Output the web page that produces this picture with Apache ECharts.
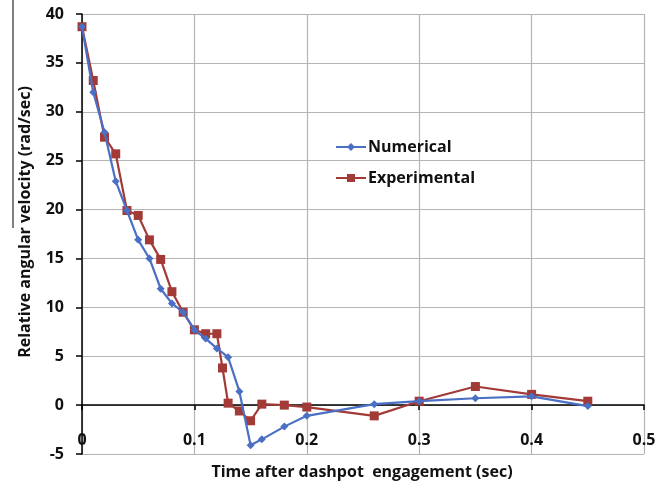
<!DOCTYPE html>
<html><head><meta charset="utf-8">
<script src="https://cdn.jsdelivr.net/npm/echarts@6/dist/echarts.min.js"></script>
<style>html,body{margin:0;padding:0;background:#fff}#c{width:672px;height:488px}</style>
</head><body><div id="c"></div>
<script>
const numX = [0, 0.01, 0.02, 0.03, 0.04, 0.05, 0.06, 0.07, 0.08, 0.09, 0.10, 0.11, 0.12, 0.13, 0.14, 0.15, 0.16, 0.18, 0.20, 0.26, 0.30, 0.35, 0.40, 0.45];
const numY = [38.7, 32.0, 27.9, 22.9, 19.9, 16.9, 15.0, 11.9, 10.4, 9.5, 7.7, 6.8, 5.8, 4.9, 1.4, -4.1, -3.5, -2.2, -1.1, 0.1, 0.4, 0.7, 0.9, -0.1];
const expX = [0, 0.01, 0.02, 0.03, 0.04, 0.05, 0.06, 0.07, 0.08, 0.09, 0.10, 0.11, 0.12, 0.125, 0.13, 0.14, 0.15, 0.16, 0.18, 0.20, 0.26, 0.30, 0.35, 0.40, 0.45];
const expY = [38.7, 33.2, 27.4, 25.7, 19.9, 19.4, 16.9, 14.9, 11.6, 9.5, 7.7, 7.3, 7.3, 3.8, 0.2, -0.6, -1.6, 0.1, 0.0, -0.2, -1.1, 0.4, 1.9, 1.1, 0.4];
const xTicks = {min: 0, max: 0.5, interval: 0.1};
const yTicks = {min: -5, max: 40, interval: 5};
const xTitle = 'Time after dashpot  engagement (sec)';
const yTitle = 'Relative angular velocity (rad/sec)';

const pair = (xs, ys) => xs.map((x, i) => [x, ys[i]]);
const font = '"Open Sans", "Liberation Sans", sans-serif';
const chart = echarts.init(document.getElementById('c'), null, {renderer: 'canvas'});
chart.setOption({
  animation: false,
  backgroundColor: '#fff',
  grid: {left: 82, right: 28, top: 14, bottom: 34},
  graphic: [
    {type: 'line', shape: {x1: 13, y1: 0, x2: 13, y2: 228}, style: {stroke: '#000', lineWidth: 1}},
    {type: 'text', x: 362, y: 472, style: {text: xTitle, font: 'bold 16px ' + font, fill: '#111', align: 'center', verticalAlign: 'middle'}},
    {type: 'text', x: 25, y: 222, rotation: Math.PI / 2, style: {text: yTitle, font: 'bold 16px ' + font, fill: '#111', align: 'center', verticalAlign: 'middle'}}
  ],
  legend: {
    orient: 'vertical', left: 330, top: 134, itemWidth: 30, itemHeight: 10, itemGap: 15,
    textStyle: {fontFamily: font, fontWeight: 'bold', fontSize: 16, color: '#111', padding: [0, 0, 0, -3]},
    data: ['Numerical', 'Experimental']
  },
  xAxis: [
    {type: 'value', position: 'bottom', min: xTicks.min, max: xTicks.max, interval: xTicks.interval,
     axisLine: {show: false, onZero: false}, axisTick: {show: false},
     axisLabel: {inside: true, margin: 6, fontFamily: font, fontWeight: 'bold', fontSize: 16, color: '#111',
       formatter: v => (v === 0 ? '0' : String(+v.toFixed(1)))},
     splitLine: {show: true, lineStyle: {color: '#b4b4b4', width: 1.2}}},
    {type: 'value', position: 'top', min: xTicks.min, max: xTicks.max, interval: xTicks.interval,
     axisLine: {show: true, onZero: true, lineStyle: {color: '#000', width: 1.5}},
     axisTick: {show: true, inside: true, length: 5, lineStyle: {color: '#000', width: 1.5}},
     axisLabel: {show: false}, splitLine: {show: false}}
  ],
  yAxis: {type: 'value', min: yTicks.min, max: yTicks.max, interval: yTicks.interval,
    axisLine: {show: true, onZero: false, lineStyle: {color: '#000', width: 1.5}},
    axisTick: {show: true, length: 6, lineStyle: {color: '#000', width: 1.5}},
    axisLabel: {margin: 18, fontFamily: font, fontWeight: 'bold', fontSize: 16, color: '#111'},
    splitLine: {show: true, lineStyle: {color: '#b4b4b4', width: 1.2}}},
  series: [
    {name: 'Numerical', type: 'line', xAxisIndex: 0, data: pair(numX, numY),
     symbol: 'diamond', symbolSize: 8, lineStyle: {color: '#4a6fc4', width: 2.2},
     itemStyle: {color: '#4a6fc4'}, z: 3},
    {name: 'Experimental', type: 'line', xAxisIndex: 0, data: pair(expX, expY),
     symbol: 'rect', symbolSize: 9, lineStyle: {color: '#a23a37', width: 2.2},
     itemStyle: {color: '#a23a37'}, z: 2}
  ]
});
</script></body></html>
